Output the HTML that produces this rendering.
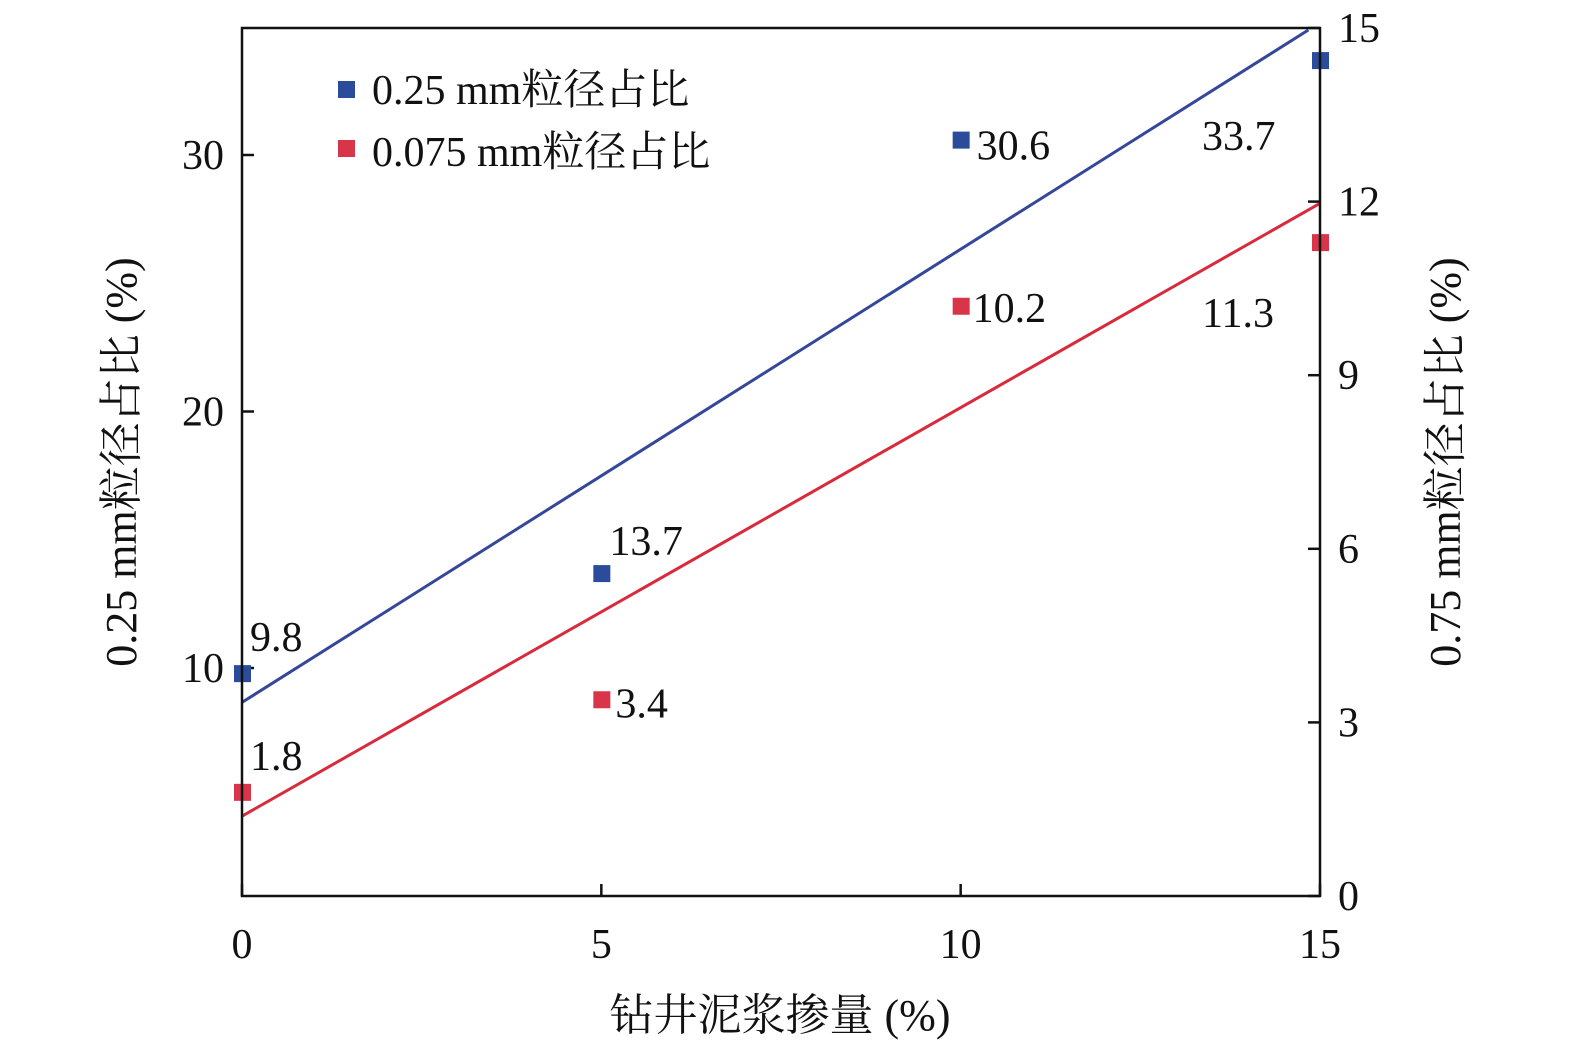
<!DOCTYPE html>
<html><head><meta charset="utf-8"><style>
html,body{margin:0;padding:0;background:#fff;}
svg text{font-family:"Liberation Serif","Noto Serif CJK SC",serif;fill:#111;}
</style></head><body>
<svg id="chart" width="1575" height="1051" viewBox="0 0 1575 1051" xmlns="http://www.w3.org/2000/svg">
<g id="ticks"></g>
<g id="lines"></g>
<g id="marks"></g>
<rect x="242" y="28" width="1078" height="868" fill="none" stroke="#111" stroke-width="2.5"/>
<g>
<rect x="338" y="81" width="17" height="17" fill="#2b4b9b"/>
<text x="372" y="104" font-size="42">0.25 mm粒径占比</text>
<rect x="338" y="140" width="17" height="17" fill="#d8344a"/>
<text x="372" y="166" font-size="42">0.075 mm粒径占比</text>
</g>
<text x="780" y="1030" font-size="44" text-anchor="middle">钻井泥浆掺量 (%)</text>
<text transform="translate(136,462) rotate(-90)" font-size="44" text-anchor="middle">0.25 mm粒径占比 (%)</text>
<text transform="translate(1460,462) rotate(-90)" font-size="44" text-anchor="middle">0.75 mm粒径占比 (%)</text>
</svg>
<script>
const xs = [0, 5, 10, 15];
const blueVals = [9.8, 13.7, 30.6, 33.7];
const redVals = [1.8, 3.4, 10.2, 11.3];
const xTicks = [0, 5, 10, 15];
const leftTicks = [10, 20, 30];
const rightTicks = [0, 3, 6, 9, 12, 15];

const L=242,R=1320,T=28,B=896;
const X=v=>L+(v-0)/15*(R-L);
const YL=v=>155-(v-30)*25.65;
const YR=v=>B-(v/15)*(B-T);
const NS="http://www.w3.org/2000/svg";
function mk(tag,attrs,parent,txt){const e=document.createElementNS(NS,tag);for(const k in attrs)e.setAttribute(k,attrs[k]);if(txt!==undefined)e.textContent=txt;document.getElementById(parent).appendChild(e);return e;}

xTicks.forEach(t=>{
  const l=mk('line',{x1:X(t),x2:X(t),y1:B,y2:B-12,stroke:'#111','stroke-width':2.5},'ticks');
  
  
  const s=mk('text',{x:X(t),y:958,'font-size':42,'text-anchor':'middle'},'ticks',String(t));
  
  
});
leftTicks.forEach(t=>{
  const l=mk('line',{x1:L,x2:L+12,y1:YL(t),y2:YL(t),stroke:'#111','stroke-width':2.5},'ticks');
  
  
  const s=mk('text',{x:L-18,y:YL(t)+14,'font-size':42,'text-anchor':'end'},'ticks',String(t));
  
  
});
rightTicks.forEach(t=>{
  const l=mk('line',{x1:R-12,x2:R,y1:YR(t),y2:YR(t),stroke:'#111','stroke-width':2.5},'ticks');
  
  
  const s=mk('text',{x:R+18,y:YR(t)+14,'font-size':42},'ticks',String(t));
  
  
});

function fit(ys){const n=xs.length,mx=xs.reduce((a,b)=>a+b)/n,my=ys.reduce((a,b)=>a+b)/n;let sxy=0,sxx=0;xs.forEach((x,i)=>{sxy+=(x-mx)*(ys[i]-my);sxx+=(x-mx)*(x-mx);});const m=sxy/sxx;return [m,my-m*mx];}
function drawLine(ys,Y,color,name){
  const [m,b]=fit(ys);
  let x2=15,y2=m*15+b;
  let py2=Y(y2);
  if(py2<T){ // clip to top
    for(let x=0;x<=15;x+=0.001){if(Y(m*x+b)<=T){x2=x;break;}}
    py2=T+2;
  }
  const l=mk('line',{x1:X(0),y1:Y(b),x2:X(x2),y2:py2,stroke:color,'stroke-width':3},'lines');
  
  
}
drawLine(blueVals,YL,'#34479a','fit-line-025');
drawLine(redVals,YR,'#d92a3c','fit-line-0075');

const blueOff=[[8,-22],[8,-18],[16,20],[-118,90]];
const redOff=[[8,-22],[14,18],[12,16],[-118,85]];
xs.forEach((x,i)=>{
  const r=mk('rect',{x:X(x)-8,y:YL(blueVals[i])-8,width:17,height:17,fill:'#2b4b9b'},'marks');
  
  
  const t=mk('text',{x:X(x)+blueOff[i][0],y:YL(blueVals[i])+blueOff[i][1],'font-size':42},'marks',blueVals[i].toFixed(1));
  
  
  const r2=mk('rect',{x:X(x)-8,y:YR(redVals[i])-8,width:17,height:17,fill:'#d8344a'},'marks');
  
  
  const t2=mk('text',{x:X(x)+redOff[i][0],y:YR(redVals[i])+redOff[i][1],'font-size':42},'marks',redVals[i].toFixed(1));
  
  
});
</script>
</body></html>
